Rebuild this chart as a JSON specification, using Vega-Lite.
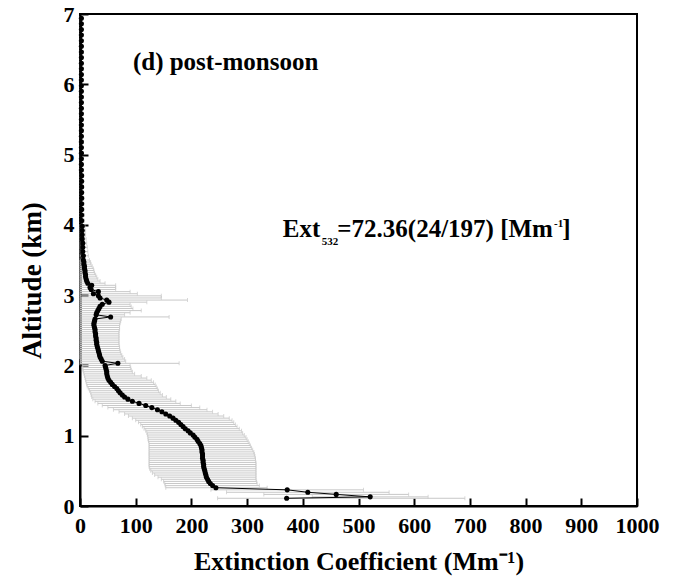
{
"$schema": "https://vega.github.io/schema/vega-lite/v6.json",
"width": 557, "height": 492,
"autosize": "none",
"padding": {"left": 80, "top": 14, "right": 37, "bottom": 78},
"background": "white",
"config": {"view": {"stroke": "black", "strokeWidth": 2}, "font": "Liberation Serif"},
"datasets": {
"profile": [
{"a":0.11,"e":371,"lo":247,"hi":691},
{"a":0.13,"e":521,"lo":417,"hi":625},
{"a":0.165,"e":460,"lo":330,"hi":590},
{"a":0.195,"e":409,"lo":263,"hi":555},
{"a":0.23,"e":372,"lo":235,"hi":509},
{"a":0.26,"e":244,"lo":154,"hi":336},
{"a":0.29,"e":238,"lo":153,"hi":322},
{"a":0.32,"e":234,"lo":152,"hi":318},
{"a":0.35,"e":231,"lo":150,"hi":317},
{"a":0.38,"e":229,"lo":146,"hi":316},
{"a":0.41,"e":227,"lo":140,"hi":316},
{"a":0.44,"e":226,"lo":134,"hi":316},
{"a":0.47,"e":225,"lo":130,"hi":316},
{"a":0.50,"e":224,"lo":127,"hi":316},
{"a":0.53,"e":223,"lo":125,"hi":316},
{"a":0.56,"e":222,"lo":124,"hi":316},
{"a":0.59,"e":222,"lo":124,"hi":316},
{"a":0.62,"e":221,"lo":124,"hi":316},
{"a":0.65,"e":221,"lo":124,"hi":315},
{"a":0.68,"e":220,"lo":124,"hi":315},
{"a":0.71,"e":220,"lo":124,"hi":314},
{"a":0.74,"e":220,"lo":124,"hi":313},
{"a":0.77,"e":219,"lo":124,"hi":312},
{"a":0.80,"e":219,"lo":124,"hi":310},
{"a":0.83,"e":218,"lo":124,"hi":308},
{"a":0.86,"e":217,"lo":124,"hi":306},
{"a":0.89,"e":215,"lo":124,"hi":304},
{"a":0.92,"e":212,"lo":123,"hi":302},
{"a":0.95,"e":210,"lo":122,"hi":300},
{"a":0.98,"e":206,"lo":122,"hi":298},
{"a":1.01,"e":203,"lo":121,"hi":295},
{"a":1.04,"e":198,"lo":120,"hi":292},
{"a":1.07,"e":194,"lo":118,"hi":290},
{"a":1.10,"e":189,"lo":115,"hi":286},
{"a":1.13,"e":185,"lo":112,"hi":282},
{"a":1.16,"e":181,"lo":109,"hi":279},
{"a":1.19,"e":177,"lo":105,"hi":276},
{"a":1.22,"e":172,"lo":100,"hi":273},
{"a":1.25,"e":167,"lo":94,"hi":268},
{"a":1.28,"e":161,"lo":87,"hi":258},
{"a":1.31,"e":154,"lo":80,"hi":248},
{"a":1.34,"e":147,"lo":70,"hi":238},
{"a":1.37,"e":139,"lo":60,"hi":228},
{"a":1.40,"e":129,"lo":50,"hi":215},
{"a":1.43,"e":118,"lo":40,"hi":200},
{"a":1.46,"e":106,"lo":32,"hi":180},
{"a":1.49,"e":94,"lo":27,"hi":172},
{"a":1.52,"e":86,"lo":23,"hi":163},
{"a":1.55,"e":80,"lo":21,"hi":155},
{"a":1.58,"e":76,"lo":20,"hi":148},
{"a":1.61,"e":72,"lo":19,"hi":144},
{"a":1.64,"e":69,"lo":17,"hi":141},
{"a":1.67,"e":66,"lo":15,"hi":139},
{"a":1.70,"e":62,"lo":13,"hi":137},
{"a":1.73,"e":58,"lo":12,"hi":135},
{"a":1.76,"e":55,"lo":11,"hi":132},
{"a":1.79,"e":52,"lo":10,"hi":128},
{"a":1.82,"e":50,"lo":9,"hi":120},
{"a":1.85,"e":49,"lo":8,"hi":110},
{"a":1.88,"e":48,"lo":7,"hi":98},
{"a":1.91,"e":48,"lo":6,"hi":94},
{"a":1.94,"e":47,"lo":5,"hi":92},
{"a":1.97,"e":46,"lo":5,"hi":91},
{"a":2.00,"e":45,"lo":4,"hi":90},
{"a":2.03,"e":68,"lo":0,"hi":178},
{"a":2.06,"e":40,"lo":1,"hi":82},
{"a":2.09,"e":38,"lo":0,"hi":80},
{"a":2.12,"e":36,"lo":0,"hi":77},
{"a":2.15,"e":35,"lo":0,"hi":75},
{"a":2.18,"e":34,"lo":0,"hi":73},
{"a":2.21,"e":33,"lo":0,"hi":72},
{"a":2.24,"e":32,"lo":0,"hi":71},
{"a":2.27,"e":31,"lo":0,"hi":71},
{"a":2.30,"e":30,"lo":0,"hi":70},
{"a":2.33,"e":30,"lo":0,"hi":70},
{"a":2.36,"e":29,"lo":0,"hi":70},
{"a":2.39,"e":29,"lo":0,"hi":70},
{"a":2.42,"e":28,"lo":0,"hi":70},
{"a":2.45,"e":28,"lo":0,"hi":70},
{"a":2.48,"e":27,"lo":0,"hi":70},
{"a":2.51,"e":27,"lo":0,"hi":71},
{"a":2.54,"e":26,"lo":0,"hi":71},
{"a":2.57,"e":25,"lo":0,"hi":71},
{"a":2.60,"e":25,"lo":0,"hi":72},
{"a":2.63,"e":26,"lo":0,"hi":73},
{"a":2.66,"e":27,"lo":0,"hi":74},
{"a":2.69,"e":55,"lo":0,"hi":160},
{"a":2.72,"e":29,"lo":0,"hi":80},
{"a":2.75,"e":30,"lo":0,"hi":90},
{"a":2.78,"e":32,"lo":0,"hi":110},
{"a":2.81,"e":34,"lo":0,"hi":95},
{"a":2.84,"e":36,"lo":0,"hi":92},
{"a":2.87,"e":40,"lo":0,"hi":90},
{"a":2.90,"e":52,"lo":0,"hi":120},
{"a":2.93,"e":48,"lo":0,"hi":193},
{"a":2.96,"e":36,"lo":0,"hi":146},
{"a":2.99,"e":33,"lo":0,"hi":146},
{"a":3.02,"e":24,"lo":0,"hi":103},
{"a":3.05,"e":33,"lo":0,"hi":90},
{"a":3.08,"e":20,"lo":0,"hi":64},
{"a":3.11,"e":18,"lo":0,"hi":64},
{"a":3.14,"e":21,"lo":0,"hi":64},
{"a":3.17,"e":14,"lo":0,"hi":45},
{"a":3.20,"e":12,"lo":0,"hi":36},
{"a":3.23,"e":11,"lo":0,"hi":32},
{"a":3.26,"e":10,"lo":0,"hi":30},
{"a":3.29,"e":10,"lo":0,"hi":28},
{"a":3.32,"e":9,"lo":0,"hi":26},
{"a":3.35,"e":9,"lo":0,"hi":25},
{"a":3.38,"e":8,"lo":0,"hi":24},
{"a":3.41,"e":8,"lo":0,"hi":22},
{"a":3.44,"e":7,"lo":0,"hi":20},
{"a":3.47,"e":7,"lo":0,"hi":19},
{"a":3.50,"e":6,"lo":0,"hi":17},
{"a":3.56,"e":6,"lo":0,"hi":15},
{"a":3.62,"e":5,"lo":0,"hi":14},
{"a":3.68,"e":5,"lo":0,"hi":13},
{"a":3.74,"e":5,"lo":0,"hi":12},
{"a":3.80,"e":4,"lo":0,"hi":11},
{"a":3.86,"e":4,"lo":0,"hi":10},
{"a":3.92,"e":4,"lo":0,"hi":10},
{"a":3.98,"e":4,"lo":0,"hi":9},
{"a":4.06,"e":3,"lo":0,"hi":8},
{"a":4.14,"e":3,"lo":0,"hi":8},
{"a":4.22,"e":3,"lo":0,"hi":7},
{"a":4.30,"e":3,"lo":0,"hi":7},
{"a":4.38,"e":3,"lo":0,"hi":7},
{"a":4.46,"e":3,"lo":0,"hi":6},
{"a":4.54,"e":3,"lo":0,"hi":6},
{"a":4.62,"e":3,"lo":0,"hi":6},
{"a":4.70,"e":3,"lo":0,"hi":6},
{"a":4.78,"e":2.5,"lo":0,"hi":5},
{"a":4.86,"e":2.5,"lo":0,"hi":5},
{"a":4.94,"e":2.5,"lo":0,"hi":5},
{"a":5.02,"e":2.5,"lo":0,"hi":5},
{"a":5.10,"e":2.5,"lo":0,"hi":5},
{"a":5.18,"e":2.5,"lo":0,"hi":5},
{"a":5.26,"e":2.5,"lo":0,"hi":5},
{"a":5.34,"e":2.5,"lo":0,"hi":5},
{"a":5.42,"e":2.5,"lo":0,"hi":5},
{"a":5.50,"e":2.5,"lo":0,"hi":5},
{"a":5.58,"e":2.5,"lo":0,"hi":5},
{"a":5.66,"e":2.5,"lo":0,"hi":5},
{"a":5.74,"e":2.5,"lo":0,"hi":5},
{"a":5.82,"e":2.5,"lo":0,"hi":5},
{"a":5.90,"e":2.5,"lo":0,"hi":5},
{"a":5.98,"e":2.5,"lo":0,"hi":5},
{"a":6.06,"e":2.5,"lo":0,"hi":5},
{"a":6.14,"e":2.5,"lo":0,"hi":5},
{"a":6.22,"e":2.5,"lo":0,"hi":5},
{"a":6.30,"e":2.5,"lo":0,"hi":5},
{"a":6.38,"e":2.5,"lo":0,"hi":5},
{"a":6.46,"e":2.5,"lo":0,"hi":5},
{"a":6.54,"e":2.5,"lo":0,"hi":5},
{"a":6.62,"e":2.5,"lo":0,"hi":5},
{"a":6.70,"e":2.5,"lo":0,"hi":5},
{"a":6.78,"e":2.5,"lo":0,"hi":5},
{"a":6.86,"e":2.5,"lo":0,"hi":5},
{"a":6.94,"e":2.5,"lo":0,"hi":5}
],
"bigNotes": [
{"x":95,"y":6.21,"t":"(d) post-monsoon"},
{"x":364,"y":3.83,"t":"Ext"},
{"x":462,"y":3.83,"t":"=72.36(24/197) [Mm"},
{"x":866,"y":3.83,"t":"]"}
],
"smallNotes": [
{"x":434,"y":3.72,"t":"532"},
{"x":851,"y":3.97,"t":"-1"}
]
},
"layer": [
{
"data": {"name": "profile"},
"mark": {"type": "rule", "color": "#c8c8c8", "strokeWidth": 1},
"encoding": {
"x": {"field": "lo", "type": "quantitative",
 "scale": {"domain": [0, 1000], "nice": false, "zero": false},
 "axis": {"values": [0,50,100,150,200,250,300,350,400,450,500,550,600,650,700,750,800,850,900,950,1000],
  "format": "d",
  "labelExpr": "datum.value % 100 === 0 ? datum.label : ''",
  "tickSize": {"condition": {"test": "datum.value % 100 === 0", "value": -8}, "value": -4},
  "tickWidth": 2, "tickColor": "black", "domainColor": "black", "domainWidth": 2,
  "grid": false, "labelFlush": false, "labelOverlap": false,
  "labelFont": "Liberation Serif", "labelFontWeight": "bold", "labelFontSize": 22, "labelColor": "black", "labelPadding": 17,
  "title": "Extinction Coefficient (Mm⁻¹)", "titleFont": "Liberation Serif", "titleFontWeight": "bold", "titleFontSize": 26, "titleColor": "black", "titlePadding": 12}},
"x2": {"field": "hi"},
"y": {"field": "a", "type": "quantitative",
 "scale": {"domain": [0, 7], "nice": false, "zero": false},
 "axis": {"values": [0,0.5,1,1.5,2,2.5,3,3.5,4,4.5,5,5.5,6,6.5,7],
  "labelExpr": "datum.value % 1 === 0 ? format(datum.value, 'd') : ''",
  "tickSize": {"condition": {"test": "datum.value % 1 === 0", "value": -8}, "value": -4},
  "tickWidth": 2, "tickColor": "black", "domainColor": "black", "domainWidth": 2,
  "grid": false, "labelFlush": false, "labelOverlap": false,
  "labelFont": "Liberation Serif", "labelFontWeight": "bold", "labelFontSize": 22, "labelColor": "black", "labelPadding": 14,
  "title": "Altitude (km)", "titleFont": "Liberation Serif", "titleFontWeight": "bold", "titleFontSize": 27, "titleColor": "black", "titlePadding": 17, "titleY": 266}}
}
},
{
"data": {"name": "profile"},
"mark": {"type": "tick", "orient": "vertical", "color": "#c8c8c8", "size": 4, "thickness": 1},
"encoding": {"x": {"field": "lo", "type": "quantitative"}, "y": {"field": "a", "type": "quantitative"}}
},
{
"data": {"name": "profile"},
"mark": {"type": "tick", "orient": "vertical", "color": "#c8c8c8", "size": 4, "thickness": 1},
"encoding": {"x": {"field": "hi", "type": "quantitative"}, "y": {"field": "a", "type": "quantitative"}}
},
{
"data": {"name": "profile"},
"mark": {"type": "line", "color": "black", "strokeWidth": 1},
"encoding": {"x": {"field": "e", "type": "quantitative"}, "y": {"field": "a", "type": "quantitative"}, "order": {"field": "a", "type": "quantitative"}}
},
{
"data": {"name": "profile"},
"mark": {"type": "circle", "color": "black", "size": 26, "opacity": 1},
"encoding": {"x": {"field": "e", "type": "quantitative"}, "y": {"field": "a", "type": "quantitative"}}
},
{
"data": {"name": "bigNotes"},
"mark": {"type": "text", "font": "Liberation Serif", "fontWeight": "bold", "fontSize": 25, "align": "left", "baseline": "alphabetic", "color": "black"},
"encoding": {"x": {"field": "x", "type": "quantitative"}, "y": {"field": "y", "type": "quantitative"}, "text": {"field": "t"}}
},
{
"data": {"name": "smallNotes"},
"mark": {"type": "text", "font": "Liberation Serif", "fontWeight": "bold", "fontSize": 11, "align": "left", "baseline": "alphabetic", "color": "black"},
"encoding": {"x": {"field": "x", "type": "quantitative"}, "y": {"field": "y", "type": "quantitative"}, "text": {"field": "t"}}
}
]
}
